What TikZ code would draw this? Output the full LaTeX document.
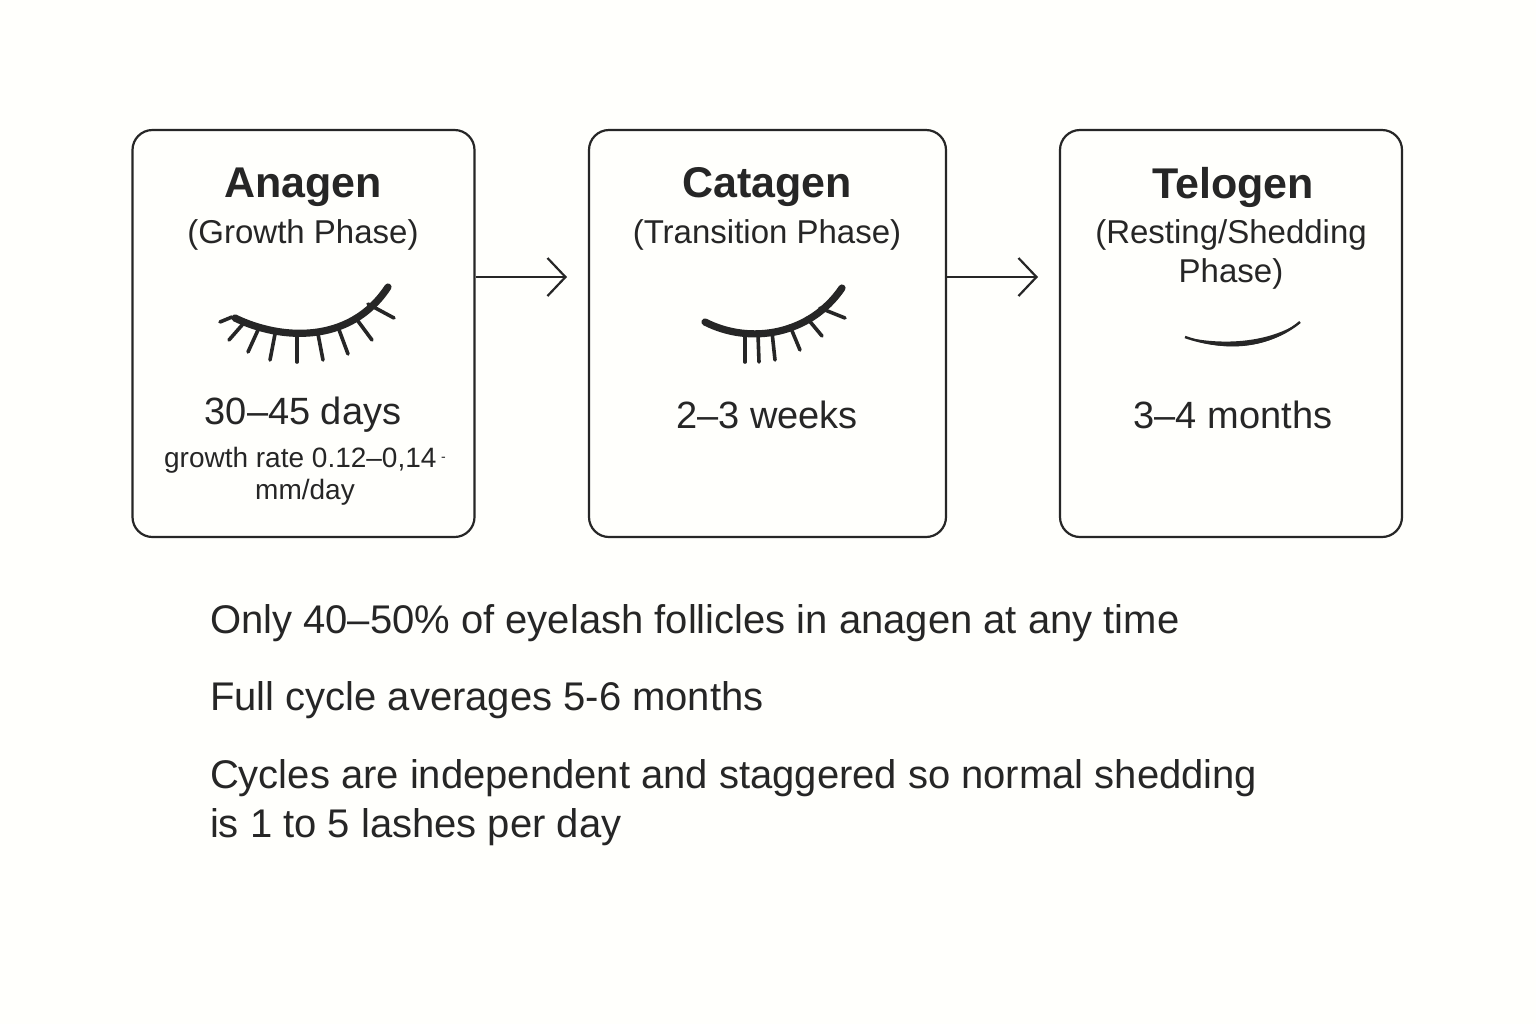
\documentclass[tikz,border=0pt]{standalone}
\usepackage{fontspec}
\setmainfont{Liberation Sans}
\usetikzlibrary{arrows.meta}
\begin{document}
\begin{tikzpicture}[x=0.5pt,y=-0.5pt,
  box/.style={draw=black!85,line width=1.1pt,rounded corners=10pt,minimum width=171pt,minimum height=203.5pt,inner sep=0pt},
  ttl/.style={font=\fontsize{21.5}{24}\selectfont\bfseries,text=black!85},
  sub/.style={font=\fontsize{16.5}{19.5}\selectfont,text=black!85,align=center},
  dur/.style={font=\fontsize{19}{21}\selectfont,text=black!85},
  sml/.style={font=\fontsize{14}{16}\selectfont,text=black!85,align=center},
  note/.style={font=\fontsize{20}{24.5}\selectfont,text=black!85,anchor=west,align=left},
  arr/.style={line width=1.1pt,draw=black!85,-{Straight Barb[length=9pt,width=19pt,line width=1.1pt]}},
  lid/.style={line width=3.6pt,draw=black!85,line cap=round},
  lash/.style={line width=1.8pt,draw=black!85,line cap=round}]
\useasboundingbox (0,0) rectangle (1536,1024);
\fill[white!99!yellow] (0,0) rectangle (1536,1024);
\node[box] (a) at (303.5,333.5) {};
\node[box,minimum width=178.5pt] (c) at (767.5,333.5) {};
\node[box] (t) at (1231,333.5) {};
\coordinate (c1) at (567,277);
\coordinate (t1) at (1038,277);
\draw[arr] (a.east|-c1) -- (c1);
\draw[arr] (c.east|-t1) -- (t1);
\node[ttl] (at) at (303,187) {Anagen};
\node[sub] (as) at (303,235) {(Growth Phase)};
\node[dur] (ad) at (303,415) {30–45 days};
\node[sml] (ag) at (305,476) {growth rate 0.12–0,14\,\raisebox{3pt}{\scriptsize-}\\mm/day};
\node[ttl] (ct) at (767,187) {Catagen};
\node[sub] (cs) at (767,235) {(Transition Phase)};
\node[dur] (cd) at (767,415) {2–3 weeks};
\node[ttl] (tt) at (1233,187) {Telogen};
\node[sub] (ts) at (1231,254) {(Resting/Shedding\\Phase)};
\node[dur] (td) at (1233,415) {3–4 months};
\node[note] (n1) at (203,623) {Only 40–50\% of eyelash follicles in anagen at any time};
\node[note] (n2) at (203,700) {Full cycle averages 5-6 months};
\node[note] (n3) at (203,803) {Cycles are independent and staggered so normal shedding\\is 1 to 5 lashes per day};
% Anagen eyelash
\draw[lid] (235,318) .. controls (280,340) and (350,345) .. (388,287);
\foreach \bx/\by/\tx/\ty in {232/317/220/322, 243/324/229/340, 258/330/248/352, 275/334/270/360, 297/336/297/362, 318/334/323/360, 338/327/348/354, 355/317/372/340, 368/304/394/318}
  \draw[lash] (\bx,\by) -- (\tx,\ty);
% Catagen eyelash
\draw[lid] (705,322) .. controls (750,345) and (810,335) .. (842,288);
\foreach \bx/\by/\tx/\ty in {745/334/745/362, 758/334/759/362, 772/332/775/360, 790/326/800/350, 807/318/822/336, 820/308/845/318}
  \draw[lash] (\bx,\by) -- (\tx,\ty);
% Telogen
\fill[black!85] (1185,337) .. controls (1225,353) and (1270,349) .. (1300,322) .. controls (1270,342) and (1225,346) .. (1185,337) -- cycle;
\draw[line width=1.2pt,black!85] (1185,337) .. controls (1225,351) and (1270,347) .. (1300,322);
\end{tikzpicture}
\end{document}
